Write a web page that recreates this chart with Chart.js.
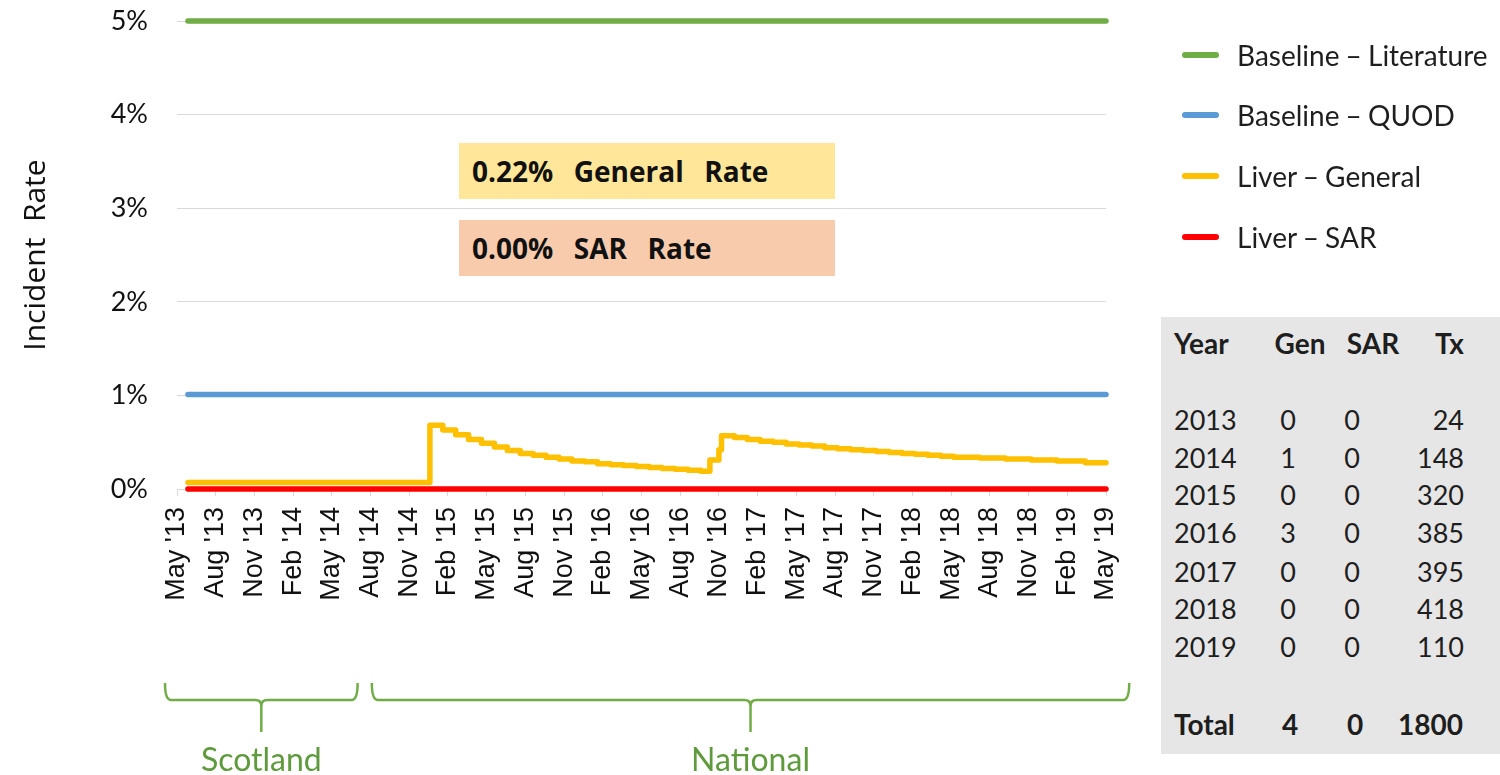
<!DOCTYPE html>
<html><head><meta charset="utf-8">
<script src="https://cdn.jsdelivr.net/npm/chart.js@4.4.1/dist/chart.umd.min.js"></script>
<style>
html,body{margin:0;padding:0;background:#fff;}
#wrap{position:relative;width:1500px;height:775px;overflow:hidden;font-family:Lato,"Open Sans",sans-serif;color:#1e1e1e;}
#c{position:absolute;left:0;top:0;}
.box{position:absolute;left:459px;width:376px;height:56px;font-family:"Open Sans",sans-serif;font-weight:bold;font-size:28px;line-height:56px;padding-left:13px;box-sizing:border-box;white-space:pre;color:#111;word-spacing:3px;}
.lg{position:absolute;left:1182px;height:40px;font-size:28px;line-height:40px;white-space:pre;word-spacing:-1px;}
.lg i{position:absolute;left:0;top:17px;width:37px;height:6px;border-radius:3px;}
.lg span{position:absolute;left:55px;top:0;}
#tbl{position:absolute;left:1161px;top:317px;width:339px;height:437px;background:#e7e6e6;}
.cell{position:absolute;font-size:27px;line-height:34px;height:34px;white-space:pre;}
.b{font-weight:bold;font-size:28px;}
</style></head>
<body>
<div id="wrap">
<canvas id="c" width="1500" height="775"></canvas>
<div class="box" style="top:143px;background:#ffe699;">0.22%  General  Rate</div>
<div class="box" style="top:220px;background:#f8cbad;">0.00%  SAR  Rate</div>
<div id="legend"></div>
<div id="tbl"></div>
</div>
<script>
// ---- data ----
const tickLabels = ["May '13","Aug '13","Nov '13","Feb '14","May '14","Aug '14","Nov '14","Feb '15","May '15","Aug '15","Nov '15","Feb '16","May '16","Aug '16","Nov '16","Feb '17","May '17","Aug '17","Nov '17","Feb '18","May '18","Aug '18","Nov '18","Feb '19","May '19"];
const seriesNames = ["Baseline \u2013 Literature","Baseline \u2013 QUOD","Liver \u2013 General","Liver \u2013 SAR"];
const seriesColors = ["#70ad47","#5b9bd5","#ffc000","#ff0000"];
// months since May 2013
const baselineMonths = [0.85, 72];
const literatureRate = [5, 5];
const quodRate = [1.01, 1.01];
const sarRate = [0, 0];
const generalMonths = [0.85,19.6,20.6,21.6,22.6,23.6,24.6,25.6,26.6,27.6,28.6,29.6,30.6,31.6,32.6,33.6,34.6,35.6,36.6,37.6,38.6,39.6,40.6,41.3,42.0,42.2,43.2,44.2,45.2,46.2,47.2,48.2,49.2,50.2,51.2,52.2,53.2,54.2,55.2,56.2,57.2,58.2,59.2,60.2,61.2,62.2,63.2,64.2,65.2,66.2,67.2,68.2,69.2,70.4,72];
const generalRate  = [0.07,0.68,0.63,0.58,0.53,0.49,0.45,0.41,0.38,0.36,0.34,0.32,0.30,0.29,0.27,0.26,0.25,0.24,0.23,0.22,0.21,0.20,0.19,0.31,0.42,0.57,0.55,0.53,0.51,0.50,0.48,0.47,0.46,0.44,0.43,0.42,0.41,0.40,0.39,0.38,0.37,0.36,0.35,0.34,0.34,0.33,0.33,0.32,0.32,0.31,0.31,0.30,0.30,0.28,0.28];
// table
const tableYears = ["2013","2014","2015","2016","2017","2018","2019"];
const tableGen = [0,1,0,3,0,0,0];
const tableSar = [0,0,0,0,0,0,0];
const tableTx = [24,148,320,385,395,418,110];
const totalGen = 4, totalSar = 0, totalTx = 1800;
// region brackets (months since May 2013)
const regionNames = ["Scotland","National"];
const regionStart = [-0.93, 15.1];
const regionEnd = [14.0, 73.8];

const pts = (xs, ys) => xs.map((x, i) => ({x: x, y: ys[i]}));

const bracketPlugin = {
  id: 'brackets',
  afterDraw(chart) {
    const ctx = chart.ctx, xs = chart.scales.x;
    ctx.save();
    ctx.strokeStyle = '#70ad47';
    ctx.lineWidth = 2.5;
    ctx.fillStyle = '#5f9a3c';
    ctx.font = '32px Lato';
    ctx.textAlign = 'center';
    ctx.textBaseline = 'middle';
    regionNames.forEach((name, i) => {
      const a = xs.getPixelForValue(regionStart[i]);
      const b = xs.getPixelForValue(regionEnd[i]);
      const c = (a + b) / 2;
      ctx.beginPath();
      ctx.moveTo(a, 683);
      ctx.quadraticCurveTo(a, 700, a + 6, 700);
      ctx.lineTo(c - 6, 700);
      ctx.quadraticCurveTo(c, 700, c, 706);
      ctx.lineTo(c, 732);
      ctx.moveTo(c, 706);
      ctx.quadraticCurveTo(c, 700, c + 6, 700);
      ctx.lineTo(b - 6, 700);
      ctx.quadraticCurveTo(b, 700, b, 683);
      ctx.stroke();
      ctx.fillText(name, c, 761);
    });
    ctx.restore();
  }
};

const mk = (i, data, order, stepped) => ({
  label: seriesNames[i], data: data, borderColor: seriesColors[i], backgroundColor: seriesColors[i],
  borderWidth: 5.5, pointRadius: 0, fill: false, clip: false, order: order,
  stepped: stepped, borderCapStyle: 'round', borderJoinStyle: 'round', tension: 0
});

const chart = new Chart(document.getElementById('c'), {
  type: 'line',
  data: {
    datasets: [
      mk(0, pts(baselineMonths, literatureRate), 3, false),
      mk(1, pts(baselineMonths, quodRate), 2, false),
      mk(2, pts(generalMonths, generalRate), 1, true),
      mk(3, pts(baselineMonths, sarRate), 0, false)
    ]
  },
  options: {
    responsive: false, animation: false,
    layout: {padding: {left: 0, top: 21, right: 394, bottom: 0}},
    plugins: {legend: {display: false}, tooltip: {enabled: false}},
    scales: {
      x: {
        type: 'linear', min: 0, max: 72,
        afterFit(s) { s.height = 286; s.paddingLeft = 0; s.paddingRight = 0; },
        grid: {drawOnChartArea: false, drawTicks: true, tickLength: 7, color: '#d9d9d9'},
        border: {color: '#d9d9d9', width: 1},
        ticks: {
          stepSize: 3, autoSkip: false, maxRotation: 90, minRotation: 90, padding: 11,
          color: '#111', font: {family: 'Liberation Sans', size: 27},
          callback: v => tickLabels[Math.round(v / 3)]
        }
      },
      y: {
        min: 0, max: 5,
        afterFit(s) { s.width = 177; s.paddingTop = 0; s.paddingBottom = 0; },
        grid: {color: '#d9d9d9', drawTicks: false},
        border: {display: false},
        ticks: {stepSize: 1, padding: 29, color: '#111', font: {family: 'Lato', size: 27}, callback: v => v + '%'},
        title: {display: true, text: 'Incident  Rate', color: '#111', font: {family: 'Open Sans', size: 30}, padding: {top: 18, bottom: 0}}
      }
    }
  },
  plugins: [bracketPlugin]
});

// legend
const lg = document.getElementById('legend');
const lgY = [35, 95, 156, 217];
seriesNames.forEach((n, i) => {
  const d = document.createElement('div');
  d.className = 'lg'; d.style.top = lgY[i] + 'px';
  d.innerHTML = '<i style="background:' + seriesColors[i] + '"></i><span>' + n + '</span>';
  lg.appendChild(d);
});

// table
const tbl = document.getElementById('tbl');
function cell(txt, x, yc, align, bold) {
  const d = document.createElement('div');
  d.className = 'cell' + (bold ? ' b' : '');
  d.textContent = txt;
  d.style.top = (yc - 317 - 17) + 'px';
  const lx = x - 1161;
  if (align === 'left') d.style.left = lx + 'px';
  else if (align === 'right') { d.style.right = (339 - lx) + 'px'; }
  else { d.style.left = (lx - 50) + 'px'; d.style.width = '100px'; d.style.textAlign = 'center'; }
  tbl.appendChild(d);
}
cell('Year', 1174, 343, 'left', true);
cell('Gen', 1300, 343, 'center', true);
cell('SAR', 1373, 343, 'center', true);
cell('Tx', 1464, 343, 'right', true);
const rowY = [420, 458, 495, 533, 572, 609, 647];
tableYears.forEach((y, i) => {
  cell(y, 1174, rowY[i], 'left', false);
  cell(String(tableGen[i]), 1288, rowY[i], 'center', false);
  cell(String(tableSar[i]), 1352, rowY[i], 'center', false);
  cell(String(tableTx[i]), 1464, rowY[i], 'right', false);
});
cell('Total', 1174, 724, 'left', true);
cell(String(totalGen), 1290, 724, 'center', true);
cell(String(totalSar), 1355, 724, 'center', true);
cell(String(totalTx), 1463, 724, 'right', true);
</script>
</body></html>
